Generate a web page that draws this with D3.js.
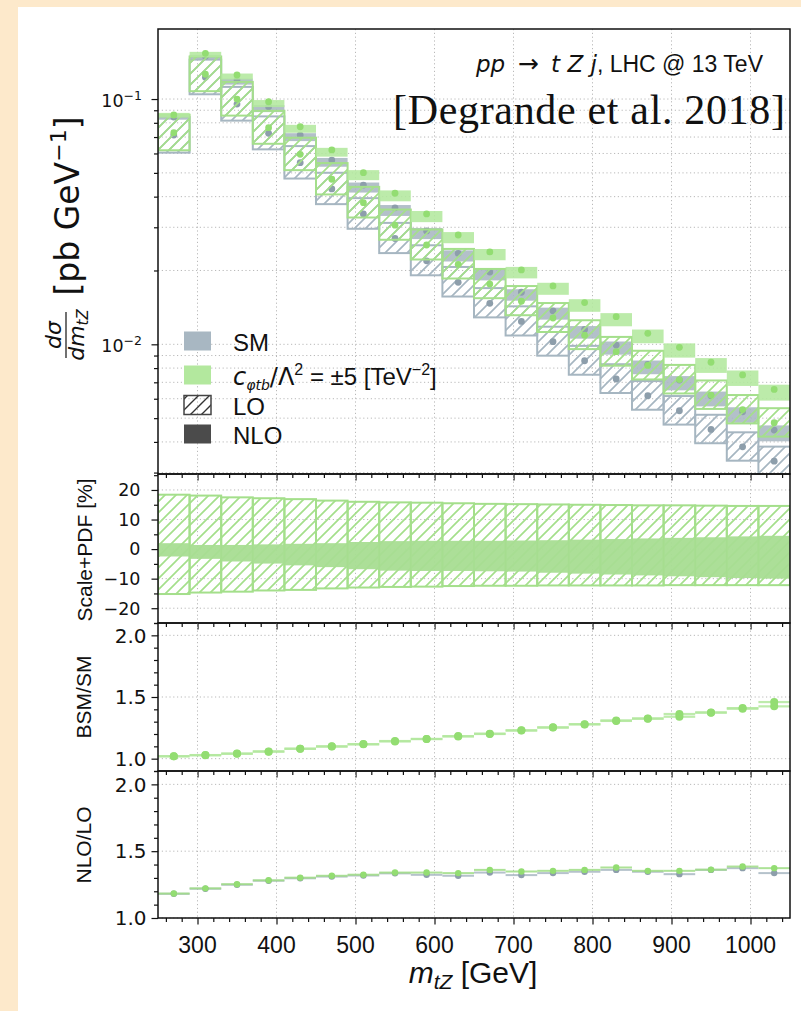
<!DOCTYPE html>
<html>
<head>
<meta charset="utf-8">
<script src="https://cdn.jsdelivr.net/npm/d3@7"></script>
<style>
  body { margin: 0; background: #fff; }
  svg { display: block; }
  text { font-family: "Liberation Sans", Arial, sans-serif; fill: #111; }
  .math { font-family: "DejaVu Sans", sans-serif; }
  .serif { font-family: "Liberation Serif", "DejaVu Serif", serif; }
</style>
</head>
<body>
<svg id="chart" width="801" height="1011"></svg>
<script>
// m_tZ bin edges [GeV]
const binEdges = [250, 290, 330, 370, 410, 450, 490, 530, 570, 610, 650,
                  690, 730, 770, 810, 850, 890, 930, 970, 1010, 1050];

// dsigma/dm_tZ central values [pb/GeV]
const smNLO  = [0.0845, 0.1493, 0.1195, 0.0930, 0.0713, 0.0564, 0.0446, 0.0360, 0.0290, 0.0235,
                0.0197, 0.0163, 0.0137, 0.0115, 0.00993, 0.00829, 0.00715, 0.00617, 0.00531, 0.00447];
const smLO   = [0.0713, 0.1226, 0.0954, 0.0725, 0.0550, 0.0430, 0.0340, 0.0270, 0.0219, 0.0179,
                0.0147, 0.0124, 0.01025, 0.00857, 0.00722, 0.00617, 0.00536, 0.00450, 0.00382, 0.00334];
const bsmNLO = [0.0861, 0.1536, 0.1253, 0.0975, 0.0771, 0.0620, 0.0501, 0.0413, 0.0340, 0.0279,
                0.0238, 0.0201, 0.0173, 0.0148, 0.01296, 0.01109, 0.00972, 0.00845, 0.00750, 0.00655];
const bsmLO  = [0.0729, 0.1262, 0.1000, 0.0764, 0.0595, 0.0471, 0.0378, 0.0306, 0.0254, 0.0212,
                0.0176, 0.0150, 0.0128, 0.0109, 0.00933, 0.00820, 0.00718, 0.00621, 0.00542, 0.00479];

// scale+PDF envelopes [%]
const loUp    = [18.4, 18.1, 17.5, 17.2, 16.9, 16.4, 16.0, 15.8, 15.7, 15.5,
                 15.3, 15.2, 15.1, 15.0, 14.9, 14.8, 14.8, 14.7, 14.6, 14.6];
const loDown  = [-15.2, -14.7, -14.4, -14.0, -13.8, -13.3, -13.0, -12.8, -12.7, -12.5,
                 -12.4, -12.4, -12.3, -12.3, -12.3, -12.3, -12.2, -12.2, -12.2, -12.2];
const nloUp   = [2.0, 1.4, 1.4, 1.6, 1.8, 2.0, 2.4, 2.7, 2.8, 2.8,
                 2.8, 2.9, 3.0, 3.2, 3.4, 3.6, 3.8, 4.0, 4.3, 4.5];
const nloDown = [-2.5, -3.3, -4.2, -4.9, -5.5, -6.1, -6.8, -7.3, -7.4, -7.4,
                 -7.5, -7.6, -8.0, -8.3, -8.6, -8.9, -9.2, -9.5, -9.8, -10.0];

// BSM/SM ratios
const ratioNLO = [1.019, 1.029, 1.040, 1.059, 1.081, 1.100, 1.118, 1.143, 1.159, 1.183,
                  1.203, 1.230, 1.254, 1.280, 1.310, 1.324, 1.362, 1.373, 1.410, 1.459];
const ratioLO  = [1.020, 1.028, 1.041, 1.057, 1.080, 1.098, 1.116, 1.140, 1.160, 1.180,
                  1.200, 1.228, 1.252, 1.278, 1.306, 1.326, 1.340, 1.375, 1.405, 1.424];

// NLO/LO K-factors
const kSM  = [1.181, 1.219, 1.249, 1.279, 1.297, 1.310, 1.318, 1.334, 1.323, 1.316,
              1.340, 1.321, 1.336, 1.346, 1.360, 1.346, 1.328, 1.360, 1.373, 1.336];
const kBSM = [1.183, 1.222, 1.253, 1.282, 1.302, 1.316, 1.324, 1.340, 1.340, 1.336,
              1.360, 1.348, 1.353, 1.360, 1.378, 1.353, 1.353, 1.362, 1.385, 1.373];

const xMajor = [300, 400, 500, 600, 700, 800, 900, 1000];
const xMinor = [260, 280, 320, 340, 360, 380, 420, 440, 460, 480, 520, 540, 560, 580,
                620, 640, 660, 680, 720, 740, 760, 780, 820, 840, 860, 880,
                920, 940, 960, 980, 1020, 1040];

const bins = binEdges.slice(0, -1).map((lo, i) => ({ i, lo, hi: binEdges[i + 1] }));

// colours
const C = {
  smEdge: "#a6b6c1", smFill: "#a8b7c2", smDot: "#8d9eab",
  bsmEdge: "#a4df8b", bsmFill: "#b3e89e", bsmDot: "#93dd72",
  scaleFill: "#a8dd92", grid: "#b9b9b9"
};

const svg = d3.select("#chart");

// page backdrop
svg.append("rect").attr("width", 801).attr("height", 1011).attr("fill", "#fde9cb");
svg.append("rect").attr("x", 18).attr("y", 7).attr("width", 783).attr("height", 1004).attr("fill", "#fff");

const defs = svg.append("defs");
function hatch(id, color, w) {
  const p = defs.append("pattern").attr("id", id)
    .attr("patternUnits", "userSpaceOnUse").attr("width", 11).attr("height", 11);
  p.append("path").attr("d", "M-2,2 L2,-2 M0,11 L11,0 M9,13 L13,9")
    .attr("stroke", color).attr("stroke-width", w).attr("fill", "none");
}
hatch("hSM", C.smEdge, 1.7);
hatch("hBSM", C.bsmEdge, 1.7);
hatch("hLeg", "#333", 1.4);

const X0 = 158, X1 = 790;
const x = d3.scaleLinear().domain([250, 1050]).range([X0, X1]);

const P = {
  main:  { id: "main",  top: 29,  bot: 474 },
  scale: { id: "scale", top: 474, bot: 623 },
  bsm:   { id: "bsm",   top: 623, bot: 771 },
  nlo:   { id: "nlo",   top: 771, bot: 918 }
};

const yMain  = d3.scaleLog().domain([0.00296, 0.193]).range([P.main.bot, P.main.top]);
const yScale = d3.scaleLinear().domain([-25, 25.4]).range([P.scale.bot, P.scale.top]);
const yBsm   = d3.scaleLinear().domain([0.9, 2.1]).range([P.bsm.bot, P.bsm.top]);
const yNlo   = d3.scaleLinear().domain([1.0, 2.1]).range([P.nlo.bot, P.nlo.top]);

Object.values(P).forEach(p => {
  defs.append("clipPath").attr("id", "clip-" + p.id)
    .append("rect").attr("x", X0).attr("y", p.top).attr("width", X1 - X0).attr("height", p.bot - p.top);
});

function gridLines(g, p, yVals, yS) {
  const gg = g.append("g").attr("stroke", C.grid).attr("stroke-width", 1)
    .attr("stroke-dasharray", "1.2,2.6").attr("fill", "none");
  xMajor.forEach(v => gg.append("line").attr("x1", x(v)).attr("x2", x(v)).attr("y1", p.top).attr("y2", p.bot));
  yVals.forEach(v => gg.append("line").attr("x1", X0).attr("x2", X1).attr("y1", yS(v)).attr("y2", yS(v)));
}

function bottomTicks(p) {
  const g = svg.append("g").attr("transform", `translate(0,${p.bot})`);
  g.call(d3.axisBottom(x).tickValues(xMajor).tickSize(6.5).tickFormat(""));
  g.call(gg => gg.select(".domain").remove());
  const g2 = svg.append("g").attr("transform", `translate(0,${p.bot})`);
  g2.call(d3.axisBottom(x).tickValues(xMinor).tickSize(4).tickFormat(""));
  g2.call(gg => gg.select(".domain").remove());
  [g, g2].forEach(a => a.selectAll("line").attr("stroke", "#111").attr("stroke-width", 1.2));
}

function leftTicks(yS, major, minor) {
  const g = svg.append("g").attr("transform", `translate(${X0},0)`);
  g.call(d3.axisLeft(yS).tickValues(major).tickSize(6.5).tickFormat(""));
  g.call(gg => gg.select(".domain").remove());
  const g2 = svg.append("g").attr("transform", `translate(${X0},0)`);
  g2.call(d3.axisLeft(yS).tickValues(minor).tickSize(4).tickFormat(""));
  g2.call(gg => gg.select(".domain").remove());
  [g, g2].forEach(a => a.selectAll("line").attr("stroke", "#111").attr("stroke-width", 1.2));
}

function frame(p) {
  svg.append("rect").attr("x", X0).attr("y", p.top).attr("width", X1 - X0).attr("height", p.bot - p.top)
    .attr("fill", "none").attr("stroke", "#111").attr("stroke-width", 1.5);
}

// ---------- main panel ----------
const logMinor = [0.003, 0.004, 0.005, 0.006, 0.007, 0.008, 0.009, 0.02, 0.03, 0.04,
                  0.05, 0.06, 0.07, 0.08, 0.09];
const gMain = svg.append("g");
gridLines(gMain, P.main, [0.01, 0.1].concat(logMinor), yMain);

const dMain = svg.append("g").attr("clip-path", "url(#clip-main)");
function drawSet(lo, nlo, edge, hatchId, fill, dot) {
  bins.forEach(b => {
    const i = b.i;
    const top = yMain(lo[i] * (1 + loUp[i] / 100)), bot = yMain(lo[i] * (1 + loDown[i] / 100));
    dMain.append("rect").attr("x", x(b.lo)).attr("width", x(b.hi) - x(b.lo))
      .attr("y", top).attr("height", bot - top)
      .attr("fill", `url(#${hatchId})`).attr("stroke", edge).attr("stroke-width", 2);
  });
  bins.forEach(b => {
    const i = b.i;
    const top = yMain(nlo[i] * (1 + nloUp[i] / 100)), bot = yMain(nlo[i] * (1 + nloDown[i] / 100));
    dMain.append("rect").attr("x", x(b.lo)).attr("width", x(b.hi) - x(b.lo))
      .attr("y", top).attr("height", bot - top)
      .attr("fill", fill).attr("opacity", 0.88);
  });
  bins.forEach(b => {
    const cx = x((b.lo + b.hi) / 2);
    dMain.append("circle").attr("cx", cx).attr("cy", yMain(lo[b.i])).attr("r", 3.4).attr("fill", dot);
    dMain.append("circle").attr("cx", cx).attr("cy", yMain(nlo[b.i])).attr("r", 3.4).attr("fill", dot);
  });
}
drawSet(smLO, smNLO, C.smEdge, "hSM", C.smFill, C.smDot);
drawSet(bsmLO, bsmNLO, C.bsmEdge, "hBSM", C.bsmFill, C.bsmDot);

leftTicks(yMain, [0.01, 0.1], logMinor);
bottomTicks(P.main);

// y tick labels as powers of ten
[[0.1, "\u22121"], [0.01, "\u22122"]].forEach(([v, e]) => {
  const t = svg.append("text").attr("class", "math").attr("x", 142).attr("y", yMain(v) + 8)
    .attr("text-anchor", "end").attr("font-size", 17.5);
  t.append("tspan").text("10");
  t.append("tspan").attr("dy", -7).attr("font-size", 12.5).text(e);
});

// process and reference annotations
const proc = svg.append("text").attr("x", 763).attr("y", 72).attr("text-anchor", "end").attr("font-size", 23);
proc.append("tspan").attr("class", "math").attr("font-style", "italic").text("pp");
proc.append("tspan").attr("class", "math").attr("font-size", 25).text("\u2002\u2192\u2002");
proc.append("tspan").attr("class", "math").attr("font-style", "italic").text("t Z j");
proc.append("tspan").text(", LHC @ 13 TeV");

svg.append("text").attr("class", "serif").attr("x", 785).attr("y", 124).attr("text-anchor", "end")
  .attr("font-size", 42).attr("textLength", 392).attr("lengthAdjust", "spacing")
  .text("[Degrande et al. 2018]");

// legend
const legend = [
  { y: 341, label: "SM", kind: "sm" },
  { y: 375, label: null, kind: "bsm" },
  { y: 405, label: "LO", kind: "lo" },
  { y: 434, label: "NLO", kind: "nlo" }
];
const lg = svg.append("g");
legend.forEach(d => {
  const r = lg.append("rect").attr("x", 184).attr("y", d.y - 9.5).attr("width", 27).attr("height", 19);
  if (d.kind === "sm") r.attr("fill", C.smFill);
  if (d.kind === "bsm") r.attr("fill", C.bsmFill);
  if (d.kind === "lo") r.attr("fill", "url(#hLeg)").attr("stroke", "#444").attr("stroke-width", 1.5);
  if (d.kind === "nlo") r.attr("fill", "#4b4b4b");
  const t = lg.append("text").attr("x", 233).attr("y", d.y + 9.5).attr("font-size", 24);
  if (d.label) { t.text(d.label); return; }
  t.append("tspan").attr("class", "math").attr("font-style", "italic").text("c");
  t.append("tspan").attr("class", "math").attr("font-style", "italic").attr("font-size", 14).attr("dy", 5).text("\u03c6tb");
  t.append("tspan").attr("class", "math").attr("dy", -5).text("/\u039b");
  t.append("tspan").attr("font-size", 16).attr("dy", -10).text("2");
  t.append("tspan").attr("dy", 10).text(" = \u00b15 [TeV");
  t.append("tspan").attr("font-size", 16).attr("dy", -10).text("\u22122");
  t.append("tspan").attr("dy", 10).text("]");
});

// y label of the main panel
const yl = svg.append("g").attr("transform", "translate(79,206) rotate(-90)");
const ylt = yl.append("text").attr("class", "math").attr("text-anchor", "middle").attr("font-size", 33);
ylt.append("tspan").text("[pb GeV");
ylt.append("tspan").attr("font-size", 22).attr("dy", -13).text("\u22121");
ylt.append("tspan").attr("dy", 13).text("]");
const fr = svg.append("g").attr("transform", "translate(66,335) rotate(-90)");
fr.append("text").attr("class", "math").attr("text-anchor", "middle").attr("y", -5)
  .attr("font-size", 22).attr("font-style", "italic").text("d\u03c3");
fr.append("line").attr("x1", -23).attr("x2", 23).attr("stroke", "#111").attr("stroke-width", 1.2);
const den = fr.append("text").attr("class", "math").attr("text-anchor", "middle").attr("y", 18)
  .attr("font-size", 22).attr("font-style", "italic");
den.append("tspan").text("dm");
den.append("tspan").attr("font-size", 15).attr("dy", 4).text("tZ");

frame(P.main);

// ---------- scale + PDF panel ----------
const gScale = svg.append("g");
gridLines(gScale, P.scale, [-20, -10, 0, 10, 20], yScale);
const dScale = svg.append("g").attr("clip-path", "url(#clip-scale)");
bins.forEach(b => {
  const i = b.i;
  dScale.append("rect").attr("x", x(b.lo)).attr("width", x(b.hi) - x(b.lo))
    .attr("y", yScale(loUp[i])).attr("height", yScale(loDown[i]) - yScale(loUp[i]))
    .attr("fill", "url(#hBSM)").attr("stroke", C.bsmEdge).attr("stroke-width", 2);
});
bins.forEach(b => {
  const i = b.i;
  dScale.append("rect").attr("x", x(b.lo)).attr("width", x(b.hi) - x(b.lo))
    .attr("y", yScale(nloUp[i])).attr("height", yScale(nloDown[i]) - yScale(nloUp[i]))
    .attr("fill", C.scaleFill).attr("opacity", 0.95);
});
leftTicks(yScale, [-20, -10, 0, 10, 20], [-25, -15, -5, 5, 15, 25]);
bottomTicks(P.scale);
[-20, -10, 0, 10, 20].forEach(v => {
  svg.append("text").attr("class", "math").attr("x", 140.5).attr("y", yScale(v) + 6.3)
    .attr("text-anchor", "end").attr("font-size", 17.5)
    .text(v < 0 ? "\u2212" + Math.abs(v) : String(v));
});
frame(P.scale);

// ---------- ratio panels ----------
function ratioPanel(p, yS, series, halfH) {
  const g = svg.append("g");
  gridLines(g, p, [1.0, 1.5, 2.0], yS);
  const d = svg.append("g").attr("clip-path", `url(#clip-${p.id})`);
  series.forEach(s => {
    bins.forEach(b => {
      const v = s.values[b.i];
      d.append("rect").attr("x", x(b.lo)).attr("width", x(b.hi) - x(b.lo))
        .attr("y", yS(v + halfH)).attr("height", yS(v - halfH) - yS(v + halfH))
        .attr("fill", s.bar).attr("opacity", 0.85);
    });
  });
  series.forEach(s => {
    bins.forEach(b => {
      d.append("circle").attr("cx", x((b.lo + b.hi) / 2)).attr("cy", yS(s.values[b.i]))
        .attr("r", s.r).attr("fill", s.dot);
    });
  });
  const minor = [];
  for (let k = 9; k <= 21; k++) { const v = k / 10; if (k % 5 !== 0) minor.push(v); }
  leftTicks(yS, [1.0, 1.5, 2.0], minor.filter(v => v >= yS.domain()[0] && v <= yS.domain()[1]));
  bottomTicks(p);
  [1.0, 1.5, 2.0].forEach(v => {
    svg.append("text").attr("class", "math").attr("x", 146.5).attr("y", yS(v) + 7.2)
      .attr("text-anchor", "end").attr("font-size", 20).text(v.toFixed(1));
  });
  frame(p);
}
ratioPanel(P.bsm, yBsm, [
  { values: ratioLO,  bar: C.bsmFill, dot: C.bsmDot, r: 4 },
  { values: ratioNLO, bar: C.bsmFill, dot: C.bsmDot, r: 4 }
], 0.009);
ratioPanel(P.nlo, yNlo, [
  { values: kSM,  bar: C.smFill,  dot: C.smDot,  r: 3.2 },
  { values: kBSM, bar: "#9fdd85", dot: C.bsmDot, r: 3.2 }
], 0.0075);

// x tick labels
xMajor.forEach(v => {
  svg.append("text").attr("x", x(v)).attr("y", 953).attr("text-anchor", "middle")
    .attr("font-size", 23).text(v);
});

// axis titles
function vLabel(txt, xx, yy) {
  svg.append("text").attr("transform", `translate(${xx},${yy}) rotate(-90)`)
    .attr("text-anchor", "middle").attr("font-size", 21).text(txt);
}
vLabel("Scale+PDF [%]", 91.5, 550);
vLabel("BSM/SM", 90.7, 697);
vLabel("NLO/LO", 90.7, 845);

const xl = svg.append("text").attr("x", 473).attr("y", 983).attr("text-anchor", "middle").attr("font-size", 30);
xl.append("tspan").attr("font-style", "italic").text("m");
xl.append("tspan").attr("font-style", "italic").attr("font-size", 21).attr("dy", 6).text("tZ");
xl.append("tspan").attr("dy", -6).text(" [GeV]");
</script>
</body>
</html>
